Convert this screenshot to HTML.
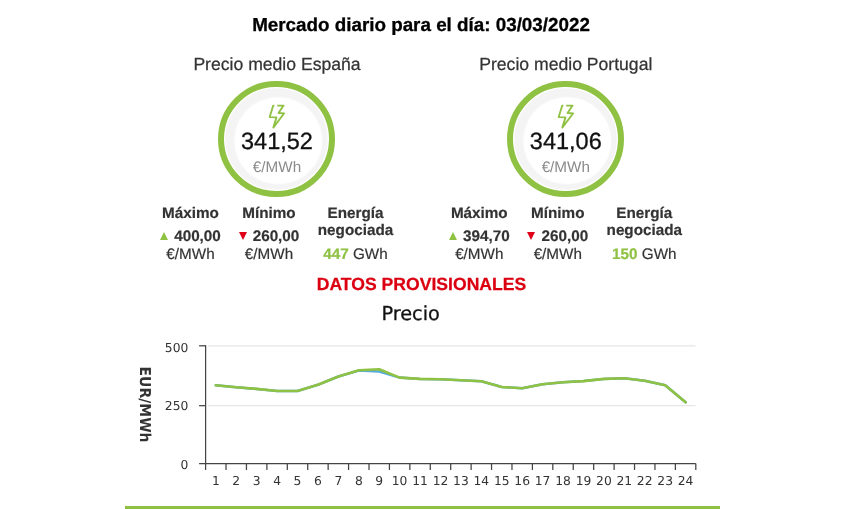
<!DOCTYPE html>
<html><head><meta charset="utf-8"><title>Mercado diario</title>
<style>
html,body{margin:0;padding:0;background:#fff;}
body{text-rendering:geometricPrecision;width:844px;height:509px;position:relative;overflow:hidden;font-family:"Liberation Sans",sans-serif;color:#333;}
div,svg{position:absolute;}
.title{left:-1px;width:844px;top:14.2px;text-align:center;font-weight:bold;font-size:18.82px;line-height:22px;color:#000;-webkit-text-stroke:0.3px #000;}
.sub{width:300px;top:54px;text-align:center;font-size:17.6px;line-height:20px;color:#333;-webkit-text-stroke:0.25px #333;}
.circ{top:80.6px;width:104.9px;height:104.9px;border:6.3px solid #8fc143;border-radius:50%;background:#fff;box-shadow:inset 0 0 0 1.3px #fff, inset 1.8px 1.8px 1.5px 8.5px #f4f4f4;}
.bolt{top:100px;}
.big{-webkit-text-stroke:0.3px #111;width:200px;top:128.3px;text-align:center;font-size:23.5px;line-height:26px;color:#111;}
.unit{width:200px;top:158.7px;text-align:center;font-size:15.25px;line-height:18px;color:#8a8a8a;}
.col{width:120px;top:205px;text-align:center;font-size:15.25px;line-height:18px;color:#333;white-space:nowrap;-webkit-text-stroke:0.2px #333;}
.rn{top:222px;}
.r2{top:227.7px;}
.r3{top:246px;}
.up{display:inline-block;width:0;height:0;border-left:4.7px solid transparent;border-right:4.7px solid transparent;border-bottom:8px solid #8fc143;margin-right:6px;position:relative;top:-0.7px;}
.dn{display:inline-block;width:0;height:0;border-left:4.7px solid transparent;border-right:4.7px solid transparent;border-top:8px solid #e0001a;margin-right:6px;position:relative;top:-0.5px;}
.g{color:#8fc143;-webkit-text-stroke:0.2px #8fc143;}
.prov{left:0;width:843px;top:274px;text-align:center;font-weight:bold;font-size:17.6px;line-height:20px;color:#db0011;-webkit-text-stroke:0.25px #db0011;}
.bar{left:125px;top:505.5px;width:594.5px;height:4px;background:#8fc143;}
svg text{font-family:"DejaVu Sans","Liberation Sans",sans-serif;fill:#333;}
#w{left:0;top:0;width:844px;height:509px;filter:blur(0.4px);}
</style></head><body><div id="w">
<div class="title">Mercado diario para el día: 03/03/2022</div>

<div class="sub" style="left:127px">Precio medio España</div>
<div class="circ" style="left:218.25px"></div>
<svg class="bolt" style="left:0px" width="300" height="40" viewBox="0 100 300 40"><path d="M277.2,105.6 L283.6,105.6 L278.5,113.0 L284.2,113.3 L273.3,127.6 L276.5,117.4 L269.7,117.1 L273.2,105.6 L274.4,105.6" fill="none" stroke="#8fc143" stroke-width="1.85" stroke-linejoin="round" stroke-linecap="butt"/></svg>
<div class="big" style="left:177px">341,52</div>
<div class="unit" style="left:177px">€/MWh</div>
<div class="col" style="left:130.5px"><b>Máximo</b></div>
<div class="col r2" style="left:130.5px"><span class="up"></span><b>400,00</b></div>
<div class="col r3" style="left:130.5px">€/MWh</div>
<div class="col" style="left:209px"><b>Mínimo</b></div>
<div class="col r2" style="left:209px"><span class="dn"></span><b>260,00</b></div>
<div class="col r3" style="left:209px">€/MWh</div>
<div class="col" style="left:295.5px"><b>Energía</b></div>
<div class="col rn" style="left:295.5px"><b>negociada</b></div>
<div class="col r3" style="left:295.5px"><b class="g">447</b> GWh</div>


<div class="sub" style="left:415.79999999999995px">Precio medio Portugal</div>
<div class="circ" style="left:507.04999999999995px"></div>
<svg class="bolt" style="left:288.79999999999995px" width="300" height="40" viewBox="0 100 300 40"><path d="M277.2,105.6 L283.6,105.6 L278.5,113.0 L284.2,113.3 L273.3,127.6 L276.5,117.4 L269.7,117.1 L273.2,105.6 L274.4,105.6" fill="none" stroke="#8fc143" stroke-width="1.85" stroke-linejoin="round" stroke-linecap="butt"/></svg>
<div class="big" style="left:465.79999999999995px">341,06</div>
<div class="unit" style="left:465.79999999999995px">€/MWh</div>
<div class="col" style="left:419.29999999999995px"><b>Máximo</b></div>
<div class="col r2" style="left:419.29999999999995px"><span class="up"></span><b>394,70</b></div>
<div class="col r3" style="left:419.29999999999995px">€/MWh</div>
<div class="col" style="left:497.79999999999995px"><b>Mínimo</b></div>
<div class="col r2" style="left:497.79999999999995px"><span class="dn"></span><b>260,00</b></div>
<div class="col r3" style="left:497.79999999999995px">€/MWh</div>
<div class="col" style="left:584.3px"><b>Energía</b></div>
<div class="col rn" style="left:584.3px"><b>negociada</b></div>
<div class="col r3" style="left:584.3px"><b class="g">150</b> GWh</div>

<div class="prov">DATOS PROVISIONALES</div>
<svg style="left:0;top:0" width="844" height="509" viewBox="0 0 844 509">
<text x="410.6" y="320.2" text-anchor="middle" font-size="19.3" style="fill:#111;stroke:#111;stroke-width:0.3px">Precio</text>
<g stroke="#e6e6e6" stroke-width="1.3"><line x1="208.0" y1="345.8" x2="695.5" y2="345.8"/><line x1="208.0" y1="405.7" x2="695.5" y2="405.7"/></g>
<g stroke="#444" stroke-width="1.25" fill="none">
<line x1="205.6" y1="345.2" x2="205.6" y2="463.5"/>
<line x1="199.1" y1="463.5" x2="695.8" y2="463.5"/>
<line x1="199.1" y1="345.8" x2="205.6" y2="345.8"/>
<line x1="199.1" y1="405.7" x2="205.6" y2="405.7"/>
<line x1="205.60" y1="463.5" x2="205.60" y2="470.0"/><line x1="226.02" y1="463.5" x2="226.02" y2="470.0"/><line x1="246.45" y1="463.5" x2="246.45" y2="470.0"/><line x1="266.88" y1="463.5" x2="266.88" y2="470.0"/><line x1="287.30" y1="463.5" x2="287.30" y2="470.0"/><line x1="307.72" y1="463.5" x2="307.72" y2="470.0"/><line x1="328.15" y1="463.5" x2="328.15" y2="470.0"/><line x1="348.57" y1="463.5" x2="348.57" y2="470.0"/><line x1="369.00" y1="463.5" x2="369.00" y2="470.0"/><line x1="389.42" y1="463.5" x2="389.42" y2="470.0"/><line x1="409.85" y1="463.5" x2="409.85" y2="470.0"/><line x1="430.27" y1="463.5" x2="430.27" y2="470.0"/><line x1="450.70" y1="463.5" x2="450.70" y2="470.0"/><line x1="471.12" y1="463.5" x2="471.12" y2="470.0"/><line x1="491.55" y1="463.5" x2="491.55" y2="470.0"/><line x1="511.97" y1="463.5" x2="511.97" y2="470.0"/><line x1="532.40" y1="463.5" x2="532.40" y2="470.0"/><line x1="552.82" y1="463.5" x2="552.82" y2="470.0"/><line x1="573.25" y1="463.5" x2="573.25" y2="470.0"/><line x1="593.67" y1="463.5" x2="593.67" y2="470.0"/><line x1="614.10" y1="463.5" x2="614.10" y2="470.0"/><line x1="634.52" y1="463.5" x2="634.52" y2="470.0"/><line x1="654.95" y1="463.5" x2="654.95" y2="470.0"/><line x1="675.37" y1="463.5" x2="675.37" y2="470.0"/><line x1="695.80" y1="463.5" x2="695.80" y2="470.0"/>
</g>
<g font-size="12.3"><text x="215.8" y="485.2" text-anchor="middle">1</text><text x="236.2" y="485.2" text-anchor="middle">2</text><text x="256.7" y="485.2" text-anchor="middle">3</text><text x="277.1" y="485.2" text-anchor="middle">4</text><text x="297.5" y="485.2" text-anchor="middle">5</text><text x="317.9" y="485.2" text-anchor="middle">6</text><text x="338.4" y="485.2" text-anchor="middle">7</text><text x="358.8" y="485.2" text-anchor="middle">8</text><text x="379.2" y="485.2" text-anchor="middle">9</text><text x="399.6" y="485.2" text-anchor="middle">10</text><text x="420.1" y="485.2" text-anchor="middle">11</text><text x="440.5" y="485.2" text-anchor="middle">12</text><text x="460.9" y="485.2" text-anchor="middle">13</text><text x="481.3" y="485.2" text-anchor="middle">14</text><text x="501.8" y="485.2" text-anchor="middle">15</text><text x="522.2" y="485.2" text-anchor="middle">16</text><text x="542.6" y="485.2" text-anchor="middle">17</text><text x="563.0" y="485.2" text-anchor="middle">18</text><text x="583.5" y="485.2" text-anchor="middle">19</text><text x="603.9" y="485.2" text-anchor="middle">20</text><text x="624.3" y="485.2" text-anchor="middle">21</text><text x="644.7" y="485.2" text-anchor="middle">22</text><text x="665.2" y="485.2" text-anchor="middle">23</text><text x="685.6" y="485.2" text-anchor="middle">24</text>
<text x="188.3" y="352.2" text-anchor="end">500</text>
<text x="188.3" y="410.2" text-anchor="end">250</text>
<text x="188.3" y="469.1" text-anchor="end">0</text>
</g>
<text font-size="15" font-weight="bold" text-anchor="middle" transform="translate(140.3,404.5) rotate(90) scale(0.93,1)">EUR/MWh</text>
<polyline points="215.8,385.3 236.2,387.2 256.7,388.9 277.1,391.0 297.5,391.0 317.9,384.8 338.4,376.5 358.8,370.6 379.2,371.5 399.6,377.6 420.1,378.9 440.5,379.2 460.9,380.2 481.3,381.3 501.8,387.0 522.2,388.2 542.6,384.2 563.0,382.3 583.5,381.1 603.9,378.9 624.3,378.3 644.7,380.8 665.2,385.3 685.6,402.3" fill="none" stroke="#55abe0" stroke-width="2.5" stroke-linejoin="round" stroke-linecap="round"/>
<polyline points="215.8,385.3 236.2,387.2 256.7,388.9 277.1,391.0 297.5,391.0 317.9,384.8 338.4,376.5 358.8,370.3 379.2,369.3 399.6,377.6 420.1,378.9 440.5,379.2 460.9,380.2 481.3,381.3 501.8,387.0 522.2,388.2 542.6,384.2 563.0,382.3 583.5,381.1 603.9,378.9 624.3,378.3 644.7,380.8 665.2,385.3 685.6,402.3" fill="none" stroke="#8fc143" stroke-width="2.6" stroke-linejoin="round" stroke-linecap="round"/>
</svg>
<div class="bar"></div>
</div></body></html>
